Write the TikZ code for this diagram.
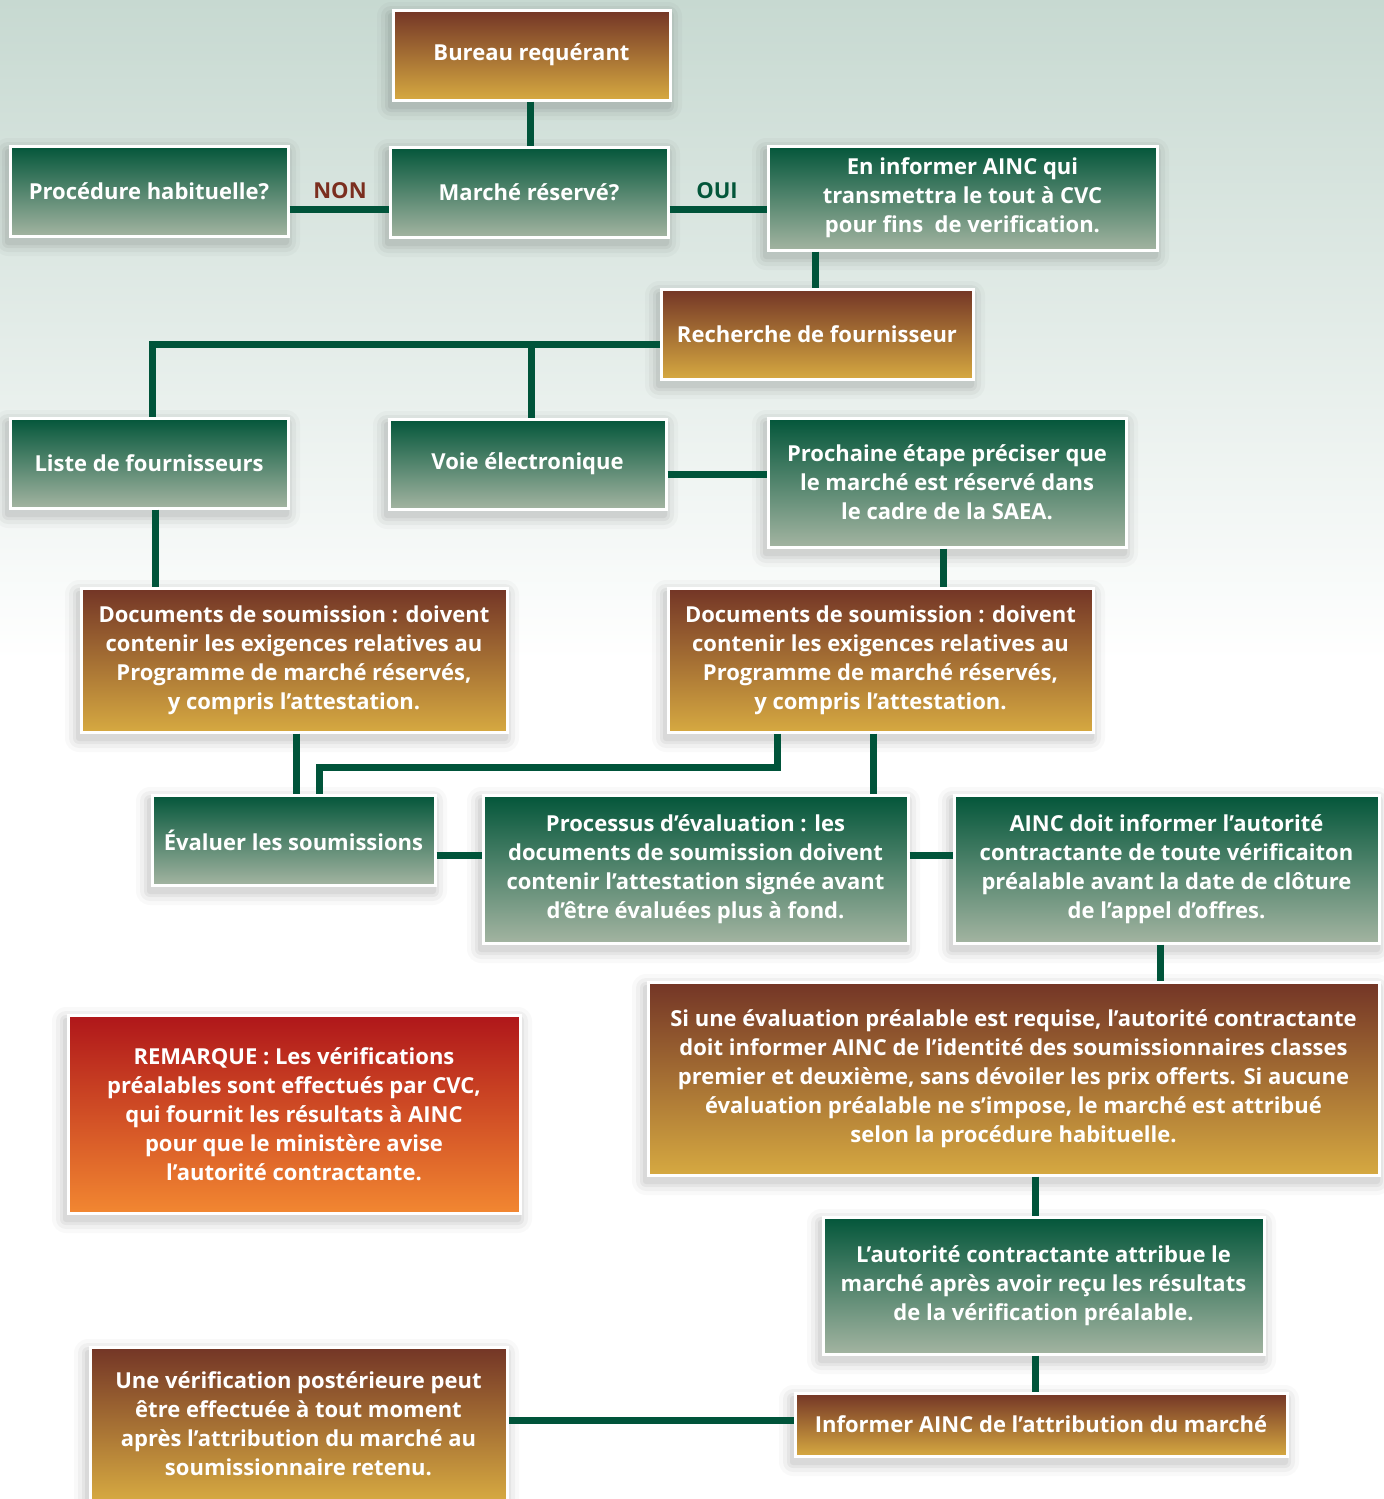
\documentclass[tikz,border=0pt]{standalone}
\usepackage{fontspec}
\setmainfont{Open Sans}
\definecolor{bgtop}{HTML}{C7D9D1}
\definecolor{gtop}{HTML}{03563A}
\definecolor{gbot}{HTML}{A3B4A1}
\definecolor{btop}{HTML}{733526}
\definecolor{bbot}{HTML}{D6A941}
\definecolor{rtop}{HTML}{AF161A}
\definecolor{rbot}{HTML}{F28731}
\definecolor{lgreen}{HTML}{00543A}
\definecolor{nonred}{HTML}{7B2E1F}
\newcommand\fs{\fontsize{11pt}{14.5pt}\selectfont}
\tikzset{
  box/.style={draw=white, line width=1.5pt, text=white, font=\bfseries\fs, align=center, inner sep=0pt},
  gbox/.style={box, top color=gtop, bottom color=gbot},
  bbox/.style={box, top color=btop, bottom color=bbot},
  rbox/.style={box, top color=rtop, bottom color=rbot},
  conn/.style={draw=lgreen, line width=3.5pt},
  lbl/.style={font=\bfseries\fs},
}
\newcommand\bx[7]{%
  \foreach \s/\o/\r in {14/0.025/7pt,10/0.035/5pt,6/0.045/3pt,3/0.05/1.5pt}{%
    \fill[black,opacity=\o,rounded corners=\r] ({#2-\s-2},{#3-\s+6}) rectangle ({#4+\s-2},{#5+\s+6});}%
  \node[#6, minimum width={(#4-#2)*0.5pt}, minimum height={(#5-#3)*0.5pt}] (#1) at ({(#2+#4)/2},{(#3+#5)/2}) {#7};}
\begin{document}
\begin{tikzpicture}[x=0.5pt,y=-0.5pt]
\useasboundingbox (0,0) rectangle (1384,1499);
\clip (0,0) rectangle (1384,1499);
\fill[white] (0,0) rectangle (1384,1499);
\shade[top color=bgtop, bottom color=white] (0,0) rectangle (1384,660);

\bx{bureau}{393}{10}{670}{100}{bbox}{Bureau requérant}
\bx{proc}{10}{146}{288}{236}{gbox}{Procédure habituelle?}
\bx{marche}{390}{147}{668}{237}{gbox}{Marché réservé?}
\bx{inform}{768}{146}{1157}{250}{gbox}{En informer AINC qui\\transmettra le tout à CVC\\pour fins~ de verification.}
\bx{rech}{661}{289}{973}{379}{bbox}{Recherche de fournisseur}
\bx{liste}{10}{418}{288}{508}{gbox}{Liste de fournisseurs}
\bx{voie}{389}{419}{666}{509}{gbox}{Voie électronique}
\bx{proch}{768}{418}{1126}{547}{gbox}{Prochaine étape préciser que\\le marché est réservé dans\\le cadre de la SAEA.}
\bx{docsL}{81}{588}{507}{732}{bbox}{Documents de soumission : doivent\\contenir les exigences relatives au\\Programme de marché réservés,\\y compris l’attestation.}
\bx{docsR}{668}{588}{1093}{732}{bbox}{Documents de soumission : doivent\\contenir les exigences relatives au\\Programme de marché réservés,\\y compris l’attestation.}
\bx{evalu}{152}{795}{435}{885}{gbox}{Évaluer les soumissions}
\bx{procs}{483}{795}{908}{943}{gbox}{Processus d’évaluation : les\\documents de soumission doivent\\contenir l’attestation signée avant\\d’être évaluées plus à fond.}
\bx{ainc}{954}{795}{1379}{943}{gbox}{AINC doit informer l’autorité\\contractante de toute vérificaiton\\préalable avant la date de clôture\\de l’appel d’offres.}
\bx{si}{648}{982}{1379}{1175}{bbox}{Si une évaluation préalable est requise, l’autorité contractante\\doit informer AINC de l’identité des soumissionnaires classes\\premier et deuxième, sans dévoiler les prix offerts. Si aucune\\évaluation préalable ne s’impose, le marché est attribué\\selon la procédure habituelle.}
\bx{rem}{68}{1015}{520}{1213}{rbox}{REMARQUE : Les vérifications\\préalables sont effectués par CVC,\\qui fournit les résultats à AINC\\pour que le ministère avise\\l’autorité contractante.}
\bx{aut}{823}{1217}{1264}{1354}{gbox}{L’autorité contractante attribue le\\marché après avoir reçu les résultats\\de la vérification préalable.}
\bx{infA}{795}{1393}{1287}{1456}{bbox}{Informer AINC de l’attribution du marché}
\bx{verif}{90}{1347}{507}{1500}{bbox}{Une vérification postérieure peut\\être effectuée à tout moment\\après l’attribution du marché au\\soumissionnaire retenu.}

% level coordinates
\coordinate (r1) at (0,209);
\coordinate (r2) at (0,344);
\coordinate (r3) at (0,474);
\coordinate (r4) at (0,767);
\coordinate (r5) at (0,855);
\coordinate (r6) at (0,1420);
\coordinate (c0) at (530,0);
\coordinate (c1) at (815,0);
\coordinate (c2) at (152,0);
\coordinate (c3) at (531,0);
\coordinate (c4) at (155,0);
\coordinate (c5) at (943,0);
\coordinate (c6) at (296,0);
\coordinate (c7) at (777,0);
\coordinate (c8) at (319,0);
\coordinate (c9) at (873,0);
\coordinate (c10) at (1160,0);
\coordinate (c11) at (1035,0);

\draw[conn] (bureau.south -| c0) -- (marche.north -| c0);
\draw[conn] (proc.east |- r1) -- (marche.west |- r1);
\draw[conn] (marche.east |- r1) -- (inform.west |- r1);
\draw[conn] (inform.south -| c1) -- (rech.north -| c1);
\draw[conn] (rech.west |- r2) -| (liste.north -| c2);
\draw[conn] (c3 |- r2) -- (voie.north -| c3);
\draw[conn] (voie.east |- r3) -- (proch.west |- r3);
\draw[conn] (liste.south -| c4) -- (docsL.north -| c4);
\draw[conn] (proch.south -| c5) -- (docsR.north -| c5);
\draw[conn] (docsL.south -| c6) -- (evalu.north -| c6);
\draw[conn] (docsR.south -| c7) -- (c7 |- r4) -| (evalu.north -| c8);
\draw[conn] (docsR.south -| c9) -- (procs.north -| c9);
\draw[conn] (evalu.east |- r5) -- (procs.west |- r5);
\draw[conn] (procs.east |- r5) -- (ainc.west |- r5);
\draw[conn] (ainc.south -| c10) -- (si.north -| c10);
\draw[conn] (si.south -| c11) -- (aut.north -| c11);
\draw[conn] (aut.south -| c11) -- (infA.north -| c11);
\draw[conn] (infA.west |- r6) -- (verif.east |- r6);

\node[lbl, text=nonred] (non) at (340,191) {NON};
\node[lbl, text=gtop] (oui) at (717,191) {OUI};
\end{tikzpicture}
\end{document}
